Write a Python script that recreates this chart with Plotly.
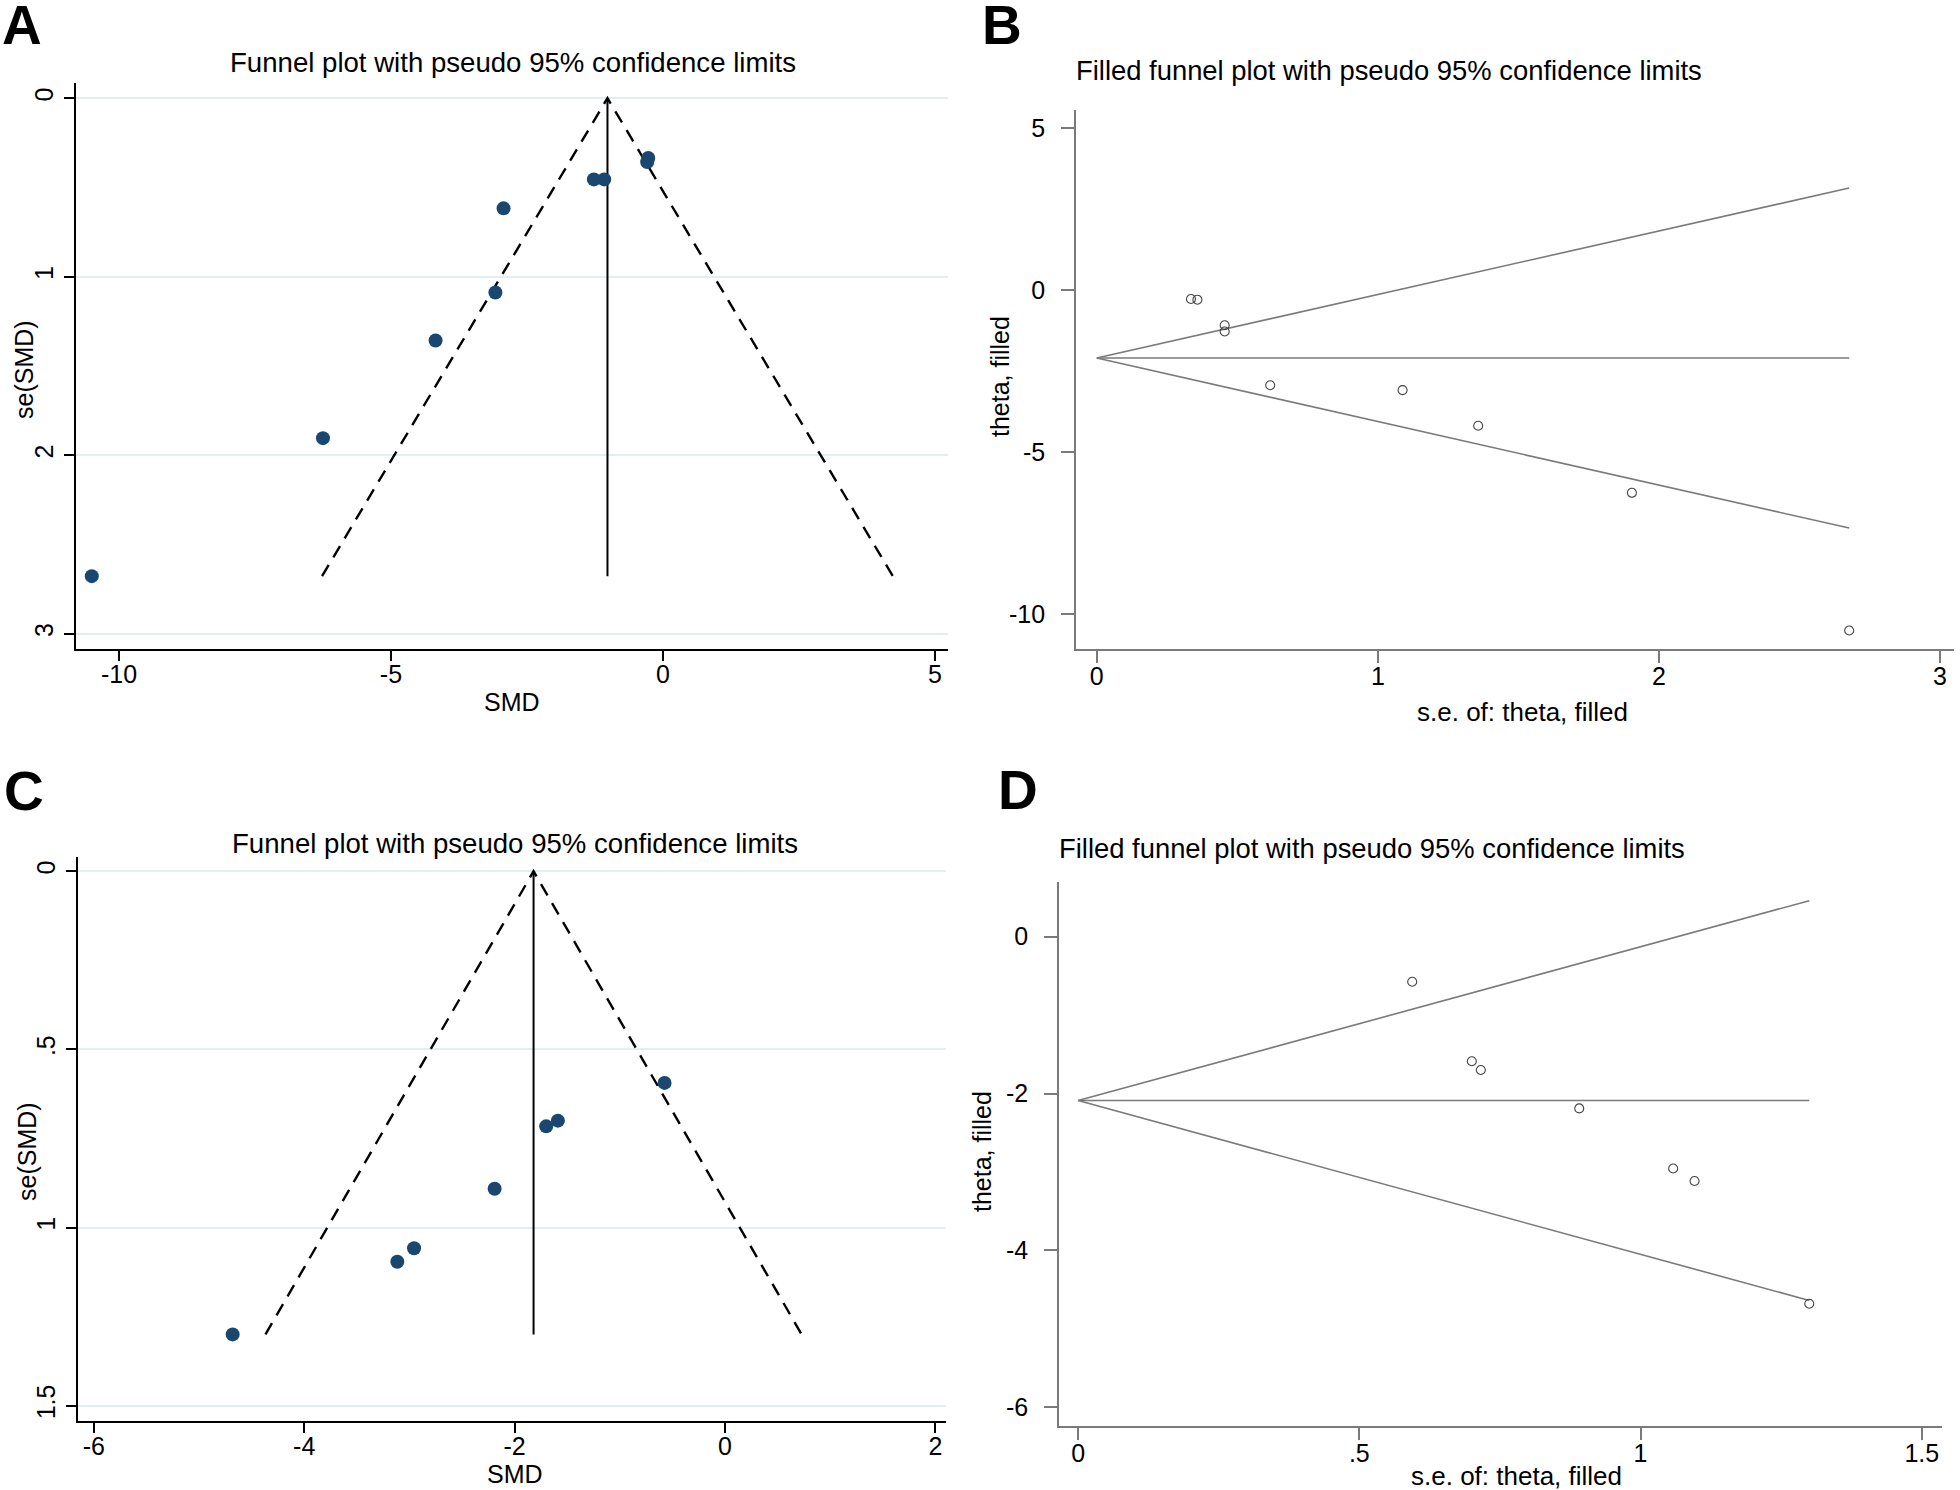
import plotly.graph_objects as go

W, H = 1960, 1490

# ---------------- data ----------------
# Panel A / B (same studies)
smd_ab = [-10.5, -6.25, -4.18, -3.08, -2.93, -1.27, -1.08, -0.27, -0.29]
se_ab = [2.677, 1.904, 1.357, 1.088, 0.617, 0.455, 0.455, 0.335, 0.358]
theta_fixed_a = -1.02      # pooled estimate (panel A vertical line)
theta_filled_b = -2.09     # filled estimate (panel B horizontal line)

# Panel C / D (same studies)
smd_cd = [-4.68, -3.115, -2.956, -2.19, -1.70, -1.589, -0.575]
se_cd = [1.30, 1.096, 1.058, 0.891, 0.716, 0.70, 0.594]
theta_fixed_c = -1.82
theta_filled_d = -2.09

ticks_a_x = [-10, -5, 0, 5]
ticks_a_x_text = ["-10", "-5", "0", "5"]
ticks_a_y = [0, 1, 2, 3]
ticks_a_y_text = ["0", "1", "2", "3"]
ticks_b_x = [0, 1, 2, 3]
ticks_b_x_text = ["0", "1", "2", "3"]
ticks_b_y = [-10, -5, 0, 5]
ticks_b_y_text = ["-10", "-5", "0", "5"]
ticks_c_x = [-6, -4, -2, 0, 2]
ticks_c_x_text = ["-6", "-4", "-2", "0", "2"]
ticks_c_y = [0, 0.5, 1, 1.5]
ticks_c_y_text = ["0", ".5", "1", "1.5"]
ticks_d_x = [0, 0.5, 1, 1.5]
ticks_d_x_text = ["0", ".5", "1", "1.5"]
ticks_d_y = [-6, -4, -2, 0]
ticks_d_y_text = ["-6", "-4", "-2", "0"]

title_funnel = "Funnel plot with pseudo 95% confidence limits"
title_filled = "Filled funnel plot with pseudo 95% confidence limits"
Z = 1.96

FONT = "Liberation Sans, Arial, sans-serif"
NAVY = "#1a476f"
GRID = "#e4edf0"
GRAY = "#7a7a7a"
DASH = "13px,9px"


def fx(px):
    return px / W


def fy(py):
    return 1 - py / H


fig = go.Figure()

# ---------------- Panel A ----------------
semax_a = max(se_ab)
fig.add_trace(go.Scatter(
    x=[theta_fixed_a - Z * semax_a, theta_fixed_a, theta_fixed_a + Z * semax_a],
    y=[semax_a, 0, semax_a], mode="lines",
    line=dict(color="black", width=2.4, dash=DASH),
    xaxis="x", yaxis="y", showlegend=False, hoverinfo="skip"))
fig.add_trace(go.Scatter(
    x=[theta_fixed_a, theta_fixed_a], y=[0, semax_a], mode="lines",
    line=dict(color="black", width=2), xaxis="x", yaxis="y",
    showlegend=False, hoverinfo="skip"))
fig.add_trace(go.Scatter(
    x=smd_ab, y=se_ab, mode="markers",
    marker=dict(color=NAVY, size=14, line=dict(width=0)),
    xaxis="x", yaxis="y", showlegend=False))

# ---------------- Panel B ----------------
semax_b = max(se_ab)
for sgn in (1, -1):
    fig.add_trace(go.Scatter(
        x=[0, semax_b], y=[theta_filled_b, theta_filled_b + sgn * Z * semax_b],
        mode="lines", line=dict(color=GRAY, width=1.6),
        xaxis="x2", yaxis="y2", showlegend=False, hoverinfo="skip"))
fig.add_trace(go.Scatter(
    x=[0, semax_b], y=[theta_filled_b, theta_filled_b], mode="lines",
    line=dict(color=GRAY, width=1.6), xaxis="x2", yaxis="y2",
    showlegend=False, hoverinfo="skip"))
fig.add_trace(go.Scatter(
    x=se_ab, y=smd_ab, mode="markers",
    marker=dict(symbol="circle-open", color="#444444", size=9, line=dict(width=1.1)),
    xaxis="x2", yaxis="y2", showlegend=False))

# ---------------- Panel C ----------------
semax_c = max(se_cd)
fig.add_trace(go.Scatter(
    x=[theta_fixed_c - Z * semax_c, theta_fixed_c, theta_fixed_c + Z * semax_c],
    y=[semax_c, 0, semax_c], mode="lines",
    line=dict(color="black", width=2.4, dash=DASH),
    xaxis="x3", yaxis="y3", showlegend=False, hoverinfo="skip"))
fig.add_trace(go.Scatter(
    x=[theta_fixed_c, theta_fixed_c], y=[0, semax_c], mode="lines",
    line=dict(color="black", width=2), xaxis="x3", yaxis="y3",
    showlegend=False, hoverinfo="skip"))
fig.add_trace(go.Scatter(
    x=smd_cd, y=se_cd, mode="markers",
    marker=dict(color=NAVY, size=14, line=dict(width=0)),
    xaxis="x3", yaxis="y3", showlegend=False))

# ---------------- Panel D ----------------
semax_d = max(se_cd)
for sgn in (1, -1):
    fig.add_trace(go.Scatter(
        x=[0, semax_d], y=[theta_filled_d, theta_filled_d + sgn * Z * semax_d],
        mode="lines", line=dict(color=GRAY, width=1.6),
        xaxis="x4", yaxis="y4", showlegend=False, hoverinfo="skip"))
fig.add_trace(go.Scatter(
    x=[0, semax_d], y=[theta_filled_d, theta_filled_d], mode="lines",
    line=dict(color=GRAY, width=1.6), xaxis="x4", yaxis="y4",
    showlegend=False, hoverinfo="skip"))
fig.add_trace(go.Scatter(
    x=se_cd, y=smd_cd, mode="markers",
    marker=dict(symbol="circle-open", color="#444444", size=9, line=dict(width=1.1)),
    xaxis="x4", yaxis="y4", showlegend=False))

tickfont = dict(family=FONT, size=25, color="black")


def xax(dom, rng, tv, tt, color="black", lw=2, anchor="y", tl=11):
    return dict(domain=[fx(dom[0]), fx(dom[1])], range=rng, tickvals=tv, ticktext=tt,
                ticks="outside", ticklen=tl, tickwidth=lw, tickcolor=color,
                showline=True, linecolor=color, linewidth=lw, mirror=False,
                showgrid=False, zeroline=False, tickfont=tickfont, anchor=anchor,
                ticklabelstandoff=-8)


def yax(dom, rng, tv, tt, color="black", lw=2, anchor="x", grid=False, angle=0,
        standoff=11, tl=11):
    return dict(domain=[fy(dom[1]), fy(dom[0])], range=rng, tickvals=tv, ticktext=tt,
                ticks="outside", ticklen=tl, tickwidth=lw, tickcolor=color,
                showline=True, linecolor=color, linewidth=lw, mirror=False,
                showgrid=grid, gridcolor=GRID, gridwidth=2, zeroline=False,
                tickfont=tickfont, anchor=anchor, tickangle=angle,
                ticklabelstandoff=standoff)


fig.update_layout(
    width=W, height=H, margin=dict(l=0, r=0, t=0, b=0),
    paper_bgcolor="white", plot_bgcolor="white",
    font=dict(family=FONT, color="black"),
    xaxis=xax((76, 948), [-10.79, 5.24], ticks_a_x, ticks_a_x_text, anchor="y", tl=10),
    yaxis=yax((83, 649), [3.085, -0.085], ticks_a_y, ticks_a_y_text, anchor="x",
              grid=True, angle=-90, standoff=1, tl=10),
    xaxis2=xax((1076, 1954), [-0.074, 3.05], ticks_b_x, ticks_b_x_text,
               color=GRAY, lw=1.6, anchor="y2", tl=12),
    yaxis2=yax((110, 649), [-11.07, 5.564], ticks_b_y, ticks_b_y_text,
               color=GRAY, lw=1.6, anchor="x2", tl=13),
    xaxis3=xax((78, 946), [-6.15, 2.1], ticks_c_x, ticks_c_x_text, anchor="y3", tl=10),
    yaxis3=yax((857, 1421), [1.543, -0.04], ticks_c_y, ticks_c_y_text, anchor="x3",
               grid=True, angle=-90, standoff=1, tl=10),
    xaxis4=xax((1059, 1942), [-0.034, 1.536], ticks_d_x, ticks_d_x_text,
               color=GRAY, lw=1.6, anchor="y4", tl=12),
    yaxis4=yax((882, 1426), [-6.238, 0.696], ticks_d_y, ticks_d_y_text,
               color=GRAY, lw=1.6, anchor="x4", tl=13),
)


def ann(text, px, py, size, xanchor="center", angle=0, bold=False, height=None):
    t = f"<b>{text}</b>" if bold else text
    kw = dict(text=t, x=fx(px), y=fy(py), xref="paper", yref="paper",
              xanchor=xanchor, yanchor="middle", showarrow=False,
              textangle=angle, font=dict(family=FONT, size=size, color="black"))
    if height is not None:
        kw["height"] = height
    fig.add_annotation(**kw)


# panel letters
ann("A", 0, 25, 55, xanchor="left", bold=True, height=40)
ann("B", 980, 25, 55, xanchor="left", bold=True, height=40)
ann("C", 2, 791, 55, xanchor="left", bold=True, height=40)
ann("D", 996, 790, 55, xanchor="left", bold=True, height=40)

# titles
ann(title_funnel, 513, 62, 27.6)
ann(title_filled, 1074, 70, 27.4, xanchor="left")
ann(title_funnel, 515, 843, 27.6)
ann(title_filled, 1057, 848, 27.4, xanchor="left")

# axis titles
ann("SMD", 512, 702, 25)
ann("se(SMD)", 24, 370, 25, angle=-90)
ann("s.e. of: theta, filled", 1522, 712, 26)
ann("theta, filled", 1000, 377, 25, angle=-90)
ann("SMD", 515, 1474, 25)
ann("se(SMD)", 27, 1152, 25, angle=-90)
ann("s.e. of: theta, filled", 1516, 1476, 26)
ann("theta, filled", 982, 1152, 25, angle=-90)

fig.write_html("out.html", config={"displayModeBar": False},
               post_script="document.body.style.margin='0';document.body.style.overflow='hidden';")
